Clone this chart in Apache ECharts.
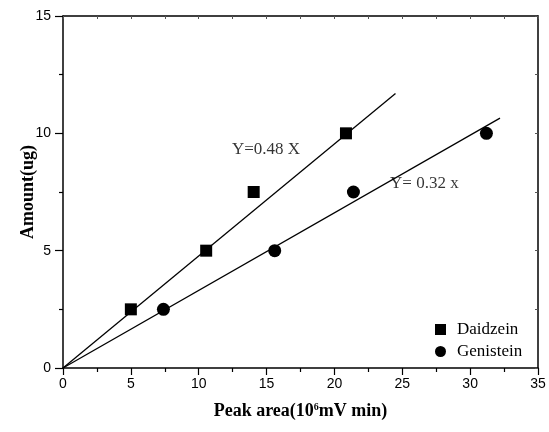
<!DOCTYPE html>
<html>
<head>
<meta charset="utf-8">
<script src="https://cdn.jsdelivr.net/npm/echarts@6/dist/echarts.min.js"></script>
<style>html,body{margin:0;padding:0;background:#fff;}#chart{width:549px;height:432px;}</style>
</head>
<body>
<div id="chart"></div>
<script>
// Data
const daidzeinPoints = [[5.0, 2.5], [10.55, 5.0], [14.05, 7.5], [20.85, 10.0]];
const genisteinPoints = [[7.4, 2.5], [15.6, 5.0], [21.4, 7.5], [31.2, 10.0]];
const daidzeinFit = [[0, 0], [24.5, 11.7]];
const genisteinFit = [[0, 0], [32.2, 10.65]];
const annotations = [
  { text: 'Y=0.48 X', coord: [12.45, 9.3] },
  { text: 'Y= 0.32 x', coord: [24.1, 7.85] }
];
const xName = 'Peak area(10{s|6}mV min)';
const yName = 'Amount(ug)';

const serif = '"Liberation Serif", "Times New Roman", serif';
const sans = '"Liberation Sans", Arial, sans-serif';

const frameAxis = (extra) => Object.assign({
  type: 'value', show: true,
  axisLine: { show: true, onZero: false, lineStyle: { color: '#000', width: 1.5 } },
  axisTick: { show: true, inside: true, length: 3, lineStyle: { color: '#555', width: 1 } },
  minorTick: { show: true, splitNumber: 2, length: 3, lineStyle: { color: '#555', width: 1 } },
  axisLabel: { show: false }, splitLine: { show: false }, minorSplitLine: { show: false }
}, extra);

const chart = echarts.init(document.getElementById('chart'), null, { renderer: 'canvas' });
chart.setOption({
  backgroundColor: '#fff',
  animation: false,
  grid: { left: 63, right: 11, top: 16, bottom: 64, containLabel: false, outerBoundsMode: 'none' },
  legend: {
    left: 430, top: 316, orient: 'vertical', itemGap: 5, itemWidth: 11, itemHeight: 11,
    data: ['Daidzein', 'Genistein'],
    textStyle: { fontFamily: serif, fontSize: 17, lineHeight: 17, color: '#000', padding: [0, 0, 0, 6] }
  },
  xAxis: [
    {
      type: 'value', min: 0, max: 35, interval: 5, position: 'bottom',
      name: xName, nameLocation: 'middle', nameGap: 34, nameMoveOverlap: false,
      nameTextStyle: { fontFamily: serif, fontWeight: 'bold', fontSize: 18, color: '#000',
        rich: { s: { fontFamily: serif, fontWeight: 'bold', fontSize: 10, color: '#000', verticalAlign: 'top', padding: [0, 0, 9, 0] } } },
      axisLine: { onZero: false, lineStyle: { color: '#000', width: 1.5 } },
      axisTick: { inside: false, length: 7, lineStyle: { color: '#000', width: 1.2 } },
      minorTick: { show: true, splitNumber: 2, length: 4, lineStyle: { color: '#000', width: 1.2 } },
      axisLabel: { fontFamily: sans, fontSize: 14, color: '#000', margin: 9 },
      splitLine: { show: false }, minorSplitLine: { show: false }
    },
    frameAxis({ min: 0, max: 35, interval: 5, position: 'top' })
  ],
  yAxis: [
    {
      type: 'value', min: 0, max: 15, interval: 5, position: 'left',
      name: yName, nameLocation: 'middle', nameGap: 26, nameMoveOverlap: false,
      nameTextStyle: { fontFamily: serif, fontWeight: 'bold', fontSize: 18, color: '#000' },
      axisLine: { onZero: false, lineStyle: { color: '#000', width: 1.5 } },
      axisTick: { inside: false, length: 8, lineStyle: { color: '#000', width: 1.2 } },
      minorTick: { show: true, splitNumber: 2, length: 4, lineStyle: { color: '#000', width: 1.2 } },
      axisLabel: { fontFamily: sans, fontSize: 14, color: '#000', margin: 12 },
      splitLine: { show: false }, minorSplitLine: { show: false }
    },
    frameAxis({ min: 0, max: 15, interval: 5, position: 'right' })
  ],
  series: [
    {
      name: 'frame', type: 'line', xAxisIndex: 1, yAxisIndex: 1, data: [], symbol: 'none', silent: true
    },
    {
      name: 'fitD', type: 'line', data: daidzeinFit, symbol: 'none',
      lineStyle: { color: '#000', width: 1.3 }, silent: true
    },
    {
      name: 'fitG', type: 'line', data: genisteinFit, symbol: 'none',
      lineStyle: { color: '#000', width: 1.3 }, silent: true
    },
    {
      name: 'Daidzein', type: 'scatter', data: daidzeinPoints, symbol: 'rect', symbolSize: 12,
      itemStyle: { color: '#000', opacity: 1 }
    },
    {
      name: 'Genistein', type: 'scatter', data: genisteinPoints, symbol: 'circle', symbolSize: 13,
      itemStyle: { color: '#000', opacity: 1 }
    },
    {
      name: 'notes', type: 'scatter', symbolSize: 0, silent: true,
      data: annotations.map(a => ({ value: a.coord, name: a.text })),
      label: {
        show: true, position: 'right', distance: 0, formatter: p => p.name,
        fontFamily: serif, fontSize: 17, color: '#000'
      }
    }
  ]
});
</script>
</body>
</html>
